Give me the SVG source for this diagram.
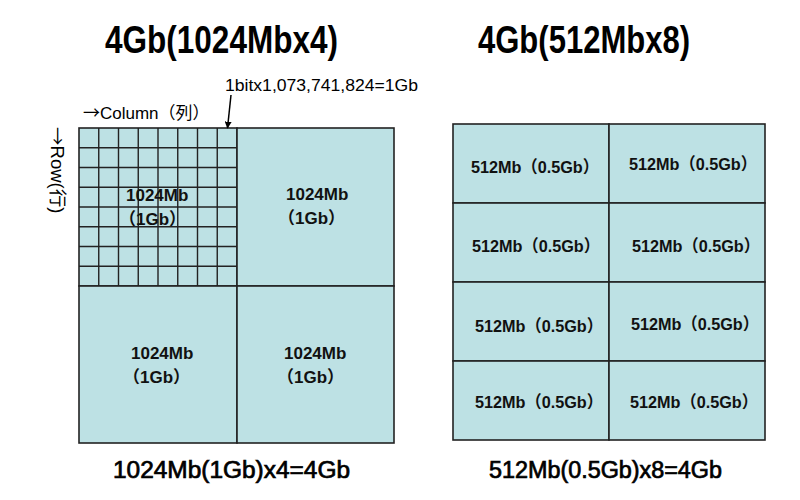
<svg xmlns="http://www.w3.org/2000/svg" width="800" height="500" viewBox="0 0 800 500">
<style>
  .cell { fill: #bde1e4; stroke: #222; stroke-width: 1.6; }
  .grid { stroke: #222; stroke-width: 1.4; fill: none; }
  .lbl { font-family: "Liberation Sans", "Noto Sans CJK JP", sans-serif; font-size: 17px; font-weight: bold; fill: #111; }
  .title { font-family: "Liberation Sans", "Noto Sans CJK JP", sans-serif; font-size: 38px; font-weight: bold; fill: #000; }
  .cap { font-family: "Liberation Sans", "Noto Sans CJK JP", sans-serif; font-size: 23px; fill: #000; stroke: #000; stroke-width: 0.7; }
  .note { font-family: "Liberation Sans", "Noto Sans CJK JP", sans-serif; font-size: 16px; fill: #000; }
  .arr { font-family: "Noto Sans CJK JP", sans-serif; }
</style>
<defs>
  <marker id="ah" viewBox="0 0 10 10" refX="9" refY="5" markerWidth="7" markerHeight="7" orient="auto" markerUnits="userSpaceOnUse">
    <path d="M0,0 L10,5 L0,10 Z" fill="#000"/>
  </marker>
</defs>
<rect width="800" height="500" fill="#fff"/>

<text class="title" x="105" y="53" textLength="233" lengthAdjust="spacingAndGlyphs">4Gb(1024Mbx4)</text>
<text class="title" x="478" y="53" textLength="212" lengthAdjust="spacingAndGlyphs">4Gb(512Mbx8)</text>

<text class="note" x="225" y="91" textLength="193" lengthAdjust="spacingAndGlyphs">1bitx1,073,741,824=1Gb</text>
<text class="note" x="83" y="119" style="font-size:17px"><tspan class="arr">→</tspan>Column（列）</text>
<text class="note" transform="translate(51,127) rotate(90)" style="font-size:18.5px"><tspan class="arr">→</tspan>Row(行)</text>

<g id="q-tl">
  <rect class="cell" x="79" y="128" width="158" height="158"/>
  <path class="grid" d="M98.75,128V286M118.5,128V286M138.25,128V286M158,128V286M177.75,128V286M197.5,128V286M217.25,128V286M79,147.75H237M79,167.5H237M79,187.25H237M79,207H237M79,226.75H237M79,246.5H237M79,266.25H237"/>
  <text class="lbl" x="126" y="201">1024Mb</text>
  <text class="lbl" x="119" y="225">（1Gb）</text>
</g>
<g id="q-tr">
  <rect class="cell" x="237" y="128" width="157" height="158"/>
  <text class="lbl" x="286" y="200">1024Mb</text>
  <text class="lbl" x="278" y="224">（1Gb）</text>
</g>
<g id="q-bl">
  <rect class="cell" x="79" y="286" width="158" height="157"/>
  <text class="lbl" x="131" y="359">1024Mb</text>
  <text class="lbl" x="123" y="383">（1Gb）</text>
</g>
<g id="q-br">
  <rect class="cell" x="237" y="286" width="157" height="157"/>
  <text class="lbl" x="284" y="359">1024Mb</text>
  <text class="lbl" x="277" y="383">（1Gb）</text>
</g>

<g id="r1l"><rect class="cell" x="453" y="124" width="156" height="79"/><text class="lbl" x="471" y="172.5" textLength="128" lengthAdjust="spacingAndGlyphs">512Mb（0.5Gb）</text></g>
<g id="r1r"><rect class="cell" x="609" y="124" width="156" height="79"/><text class="lbl" x="629" y="170" textLength="128" lengthAdjust="spacingAndGlyphs">512Mb（0.5Gb）</text></g>
<g id="r2l"><rect class="cell" x="453" y="203" width="156" height="79"/><text class="lbl" x="472" y="251.5" textLength="128" lengthAdjust="spacingAndGlyphs">512Mb（0.5Gb）</text></g>
<g id="r2r"><rect class="cell" x="609" y="203" width="156" height="79"/><text class="lbl" x="632" y="251.5" textLength="128" lengthAdjust="spacingAndGlyphs">512Mb（0.5Gb）</text></g>
<g id="r3l"><rect class="cell" x="453" y="282" width="156" height="79"/><text class="lbl" x="475" y="331.5" textLength="128" lengthAdjust="spacingAndGlyphs">512Mb（0.5Gb）</text></g>
<g id="r3r"><rect class="cell" x="609" y="282" width="156" height="79"/><text class="lbl" x="631" y="330" textLength="128" lengthAdjust="spacingAndGlyphs">512Mb（0.5Gb）</text></g>
<g id="r4l"><rect class="cell" x="453" y="361" width="156" height="79"/><text class="lbl" x="475" y="408" textLength="128" lengthAdjust="spacingAndGlyphs">512Mb（0.5Gb）</text></g>
<g id="r4r"><rect class="cell" x="609" y="361" width="156" height="79"/><text class="lbl" x="630" y="408" textLength="128" lengthAdjust="spacingAndGlyphs">512Mb（0.5Gb）</text></g>

<text class="cap" x="113" y="478" textLength="237" lengthAdjust="spacingAndGlyphs">1024Mb(1Gb)x4=4Gb</text>
<text class="cap" x="489" y="478" textLength="233" lengthAdjust="spacingAndGlyphs">512Mb(0.5Gb)x8=4Gb</text>

<g id="connectors">
  <line x1="231" y1="95" x2="227.5" y2="128" stroke="#000" stroke-width="1.5" marker-end="url(#ah)"/>
</g>
</svg>
